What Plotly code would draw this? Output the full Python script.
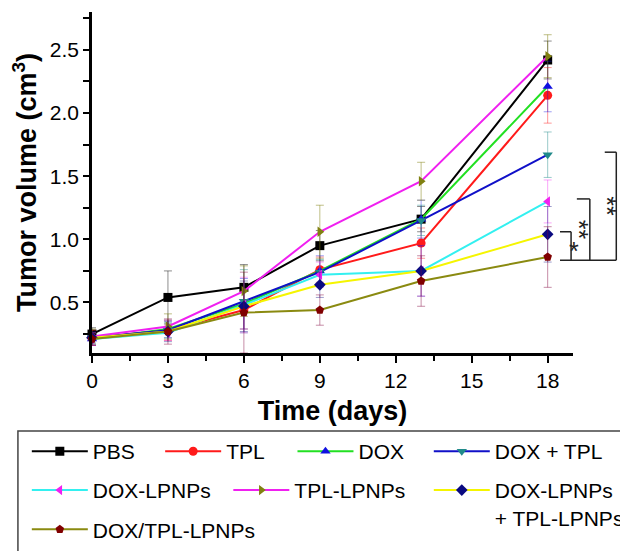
import plotly.graph_objects as go

# ---------------- data ----------------
days = [0, 3, 6, 9, 13, 18]

series_names = ["PBS", "TPL", "DOX", "DOX + TPL", "DOX-LPNPs", "TPL-LPNPs",
                "DOX-LPNPs<br>+ TPL-LPNPs", "DOX/TPL-LPNPs"]

pbs = [0.25, 0.54, 0.62, 0.95, 1.16, 2.42]
pbs_err = [0.05, 0.21, 0.18, 0.12, 0.10, 0.15]
tpl = [0.22, 0.28, 0.44, 0.76, 0.97, 2.14]
tpl_err = [0.06, 0.08, 0.15, 0.10, 0.12, 0.22]
dox = [0.21, 0.29, 0.49, 0.75, 1.16, 2.21]
dox_err = [0.05, 0.07, 0.20, 0.12, 0.15, 0.20]
dox_tpl = [0.22, 0.28, 0.51, 0.74, 1.15, 1.67]
dox_tpl_err = [0.04, 0.06, 0.25, 0.10, 0.12, 0.18]
dox_lpnps = [0.21, 0.26, 0.48, 0.72, 0.75, 1.30]
dox_lpnps_err = [0.05, 0.06, 0.22, 0.10, 0.20, 0.17]
tpl_lpnps = [0.23, 0.31, 0.59, 1.06, 1.46, 2.45]
tpl_lpnps_err = [0.06, 0.10, 0.20, 0.21, 0.15, 0.17]
combo_lpnps = [0.22, 0.27, 0.47, 0.64, 0.75, 1.04]
combo_lpnps_err = [0.05, 0.08, 0.20, 0.10, 0.20, 0.22]
co_lpnps = [0.21, 0.27, 0.42, 0.44, 0.67, 0.86]
co_lpnps_err = [0.05, 0.10, 0.32, 0.12, 0.20, 0.24]

values = [pbs, tpl, dox, dox_tpl, dox_lpnps, tpl_lpnps, combo_lpnps, co_lpnps]
errors = [pbs_err, tpl_err, dox_err, dox_tpl_err, dox_lpnps_err, tpl_lpnps_err,
          combo_lpnps_err, co_lpnps_err]

x_ticks = [0, 3, 6, 9, 12, 15, 18]
y_ticks = [0.5, 1.0, 1.5, 2.0, 2.5]

# significance comparisons against DOX/TPL-LPNPs (index 7)
sig_compare = [6, 4, 3]
sig_labels = ["*", "**", "**"]

# ---------------- styles ----------------
line_colors = ["#000000", "#ff1a1a", "#22e022", "#1010c8", "#33f0f0", "#f020f0", "#f5f500", "#8a8a10"]
marker_colors = ["#000000", "#ff1a1a", "#1010e0", "#208a8a", "#f020f0", "#808010", "#0a0a80", "#800000"]
err_colors = ["rgba(0,0,0,0.45)", "rgba(255,26,26,0.45)", "rgba(16,16,224,0.4)", "rgba(32,138,138,0.45)",
              "rgba(240,32,240,0.4)", "rgba(128,128,16,0.5)", "rgba(10,10,128,0.4)", "rgba(128,0,60,0.45)"]
symbols = ["square", "circle", "triangle-up", "triangle-down", "triangle-left", "triangle-right",
           "diamond", "pentagon"]
legend_ids = ["legend", "legend2", "legend3", "legend4", "legend5", "legend6", "legend7", "legend8"]
# legend placement (paper coords) for each entry
leg_x = [-0.1355, 0.1417, 0.4168, 0.7002, -0.1355, 0.2834, 0.7002, -0.1355]
leg_y = [-0.229, -0.229, -0.229, -0.229, -0.343, -0.343, -0.343, -0.458]

FONT = "Liberation Sans, Arial, sans-serif"

fig = go.Figure()
for i, name in enumerate(series_names):
    fig.add_trace(go.Scatter(
        x=days, y=values[i], name=name, mode="lines+markers",
        line=dict(color=line_colors[i], width=2),
        marker=dict(symbol=symbols[i], color=marker_colors[i], size=9),
        error_y=dict(type="data", array=errors[i], visible=True, color=err_colors[i],
                     thickness=1, width=4),
        legend=legend_ids[i], cliponaxis=False, showlegend=True,
    ))

# significance brackets
bottom = co_lpnps[-1] - 0.025
x_left = 0.973
x_verts = [0.996, 1.035, 1.090]
x_tops = [0.973, 1.008, 1.066]
star_x = [1.016, 1.058, 1.114]
shapes = []
annotations = []
for k, idx in enumerate(sig_compare):
    top = values[idx][-1] + 0.02
    shapes.append(dict(type="line", xref="paper", yref="y", x0=x_tops[k], x1=x_verts[k],
                       y0=top, y1=top, line=dict(color="#222", width=1.5)))
    shapes.append(dict(type="line", xref="paper", yref="y", x0=x_verts[k], x1=x_verts[k],
                       y0=top, y1=bottom, line=dict(color="#222", width=1.5)))
    annotations.append(dict(xref="paper", yref="y", x=star_x[k], y=(top + bottom) / 2,
                            text=sig_labels[k], showarrow=False,
                            textangle=0 if k == 0 else 90,
                            xshift=0 if k == 0 else -5, yshift=-5 if k == 0 else 0,
                            font=dict(family=FONT, size=25, color="#222")))
shapes.append(dict(type="line", xref="paper", yref="y", x0=x_left, x1=x_verts[-1],
                   y0=bottom, y1=bottom, line=dict(color="#222", width=1.5)))
# legend box
shapes.append(dict(type="rect", xref="paper", yref="paper", x0=-0.154, x1=1.115,
                   y0=-0.601, y1=-0.229, line=dict(color="#444", width=1.5)))

leg_common = dict(orientation="h", xanchor="left", yanchor="top", bgcolor="rgba(0,0,0,0)",
                  borderwidth=0, itemwidth=56, valign="top",
                  font=dict(family=FONT, size=21, color="#000"),
                  itemclick=False, itemdoubleclick=False, visible=True)

legends = {}
for i, lid in enumerate(legend_ids):
    legends[lid] = dict(x=leg_x[i], y=leg_y[i], **leg_common)

fig.update_layout(
    width=628, height=551,
    margin=dict(l=78, r=63, t=4, b=206),
    paper_bgcolor="white", plot_bgcolor="white",
    font=dict(family=FONT, size=21, color="#000"),
    shapes=shapes, annotations=annotations,
    hovermode=False, showlegend=True,
    **legends,
)

fig.update_xaxes(
    range=[0, 19], tickvals=x_ticks, ticktext=[str(t) for t in x_ticks],
    showline=True, linecolor="#000", linewidth=2.5, showgrid=False, zeroline=False,
    ticks="outside", ticklen=7, tickwidth=2, tickcolor="#000",
    minor=dict(dtick=1.5, tick0=0, ticks="outside", ticklen=5, tickwidth=2, tickcolor="#000", showgrid=False),
    tickfont=dict(family=FONT, size=21),
    title=dict(text="<b>Time (days)</b>", font=dict(family=FONT, size=27), standoff=11),
)
fig.update_yaxes(
    range=[0.1, 2.8], tickvals=y_ticks, ticktext=[f"{t:.1f}" for t in y_ticks],
    showline=True, linecolor="#000", linewidth=2.5, showgrid=False, zeroline=False,
    ticks="outside", ticklen=6, tickwidth=2, tickcolor="#000",
    minor=dict(dtick=0.25, tick0=0, ticks="outside", ticklen=6, tickwidth=2, tickcolor="#000", showgrid=False),
    tickfont=dict(family=FONT, size=21),
    title=dict(text="<b>Tumor volume (cm<sup>3</sup>)</b>", font=dict(family=FONT, size=27), standoff=19),
)

fig.write_html("out.html")
